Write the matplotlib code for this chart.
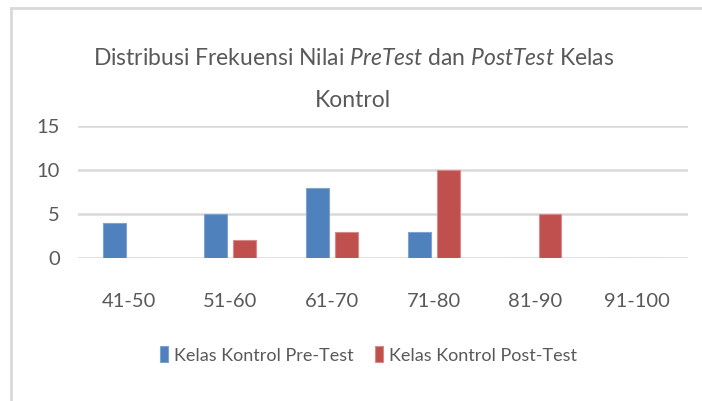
import numpy as np
import matplotlib
matplotlib.use("Agg")
import matplotlib.pyplot as plt
from matplotlib.lines import Line2D

# data
categories = ["41-50", "51-60", "61-70", "71-80", "81-90", "91-100"]
pre_test = [4, 5, 8, 3, 0, 0]
post_test = [0, 2, 3, 10, 5, 0]
series_names = ["Kelas Kontrol Pre-Test", "Kelas Kontrol Post-Test"]

font = ["Lato", "DejaVu Sans"]
plt.rcParams["font.family"] = font
plt.rcParams["mathtext.fontset"] = "custom"
plt.rcParams["mathtext.rm"] = "Lato"
plt.rcParams["mathtext.it"] = "Lato:italic"

txt = "#595959"
grid = "#d9d9d9"
blue = "#4f81bd"
red = "#c0504d"

fig = plt.figure(figsize=(7.02, 4.01), dpi=100)
ax = fig.add_axes([0.111, 0.3566, 0.869, 0.329])

x = np.arange(len(categories))
w = 0.226
off = 0.143
ax.bar(x - off, pre_test, w, color=blue, edgecolor="#7fa3d0", linewidth=0.8,
       label=series_names[0], zorder=3)
ax.bar(x + off, post_test, w, color=red, edgecolor="#d98a88", linewidth=0.8,
       label=series_names[1], zorder=3)

ax.set_xlim(-0.5, len(categories) - 0.5)
ax.set_ylim(0, 15)
ax.set_yticks([0, 5, 10, 15])
ax.set_xticks(x)
ax.set_xticklabels(categories)
for s in ax.spines.values():
    s.set_visible(False)
ax.yaxis.grid(True, color=grid, linewidth=1.8, zorder=0)
ax.set_axisbelow(True)
ax.tick_params(axis="both", length=0, labelsize=14.5, colors=txt)
ax.tick_params(axis="x", pad=25)
ax.tick_params(axis="y", pad=13)

fig.text(0.503, 0.855,
         r"Distribusi Frekuensi Nilai $\mathit{PreTest}$ dan $\mathit{PostTest}$ Kelas",
         ha="center", va="center", fontsize=16.5, color=txt)
fig.text(0.503, 0.75, "Kontrol", ha="center", va="center", fontsize=16.5, color=txt)

leg = fig.legend(loc="center", bbox_to_anchor=(0.525, 0.115), ncol=2, frameon=False,
                 fontsize=13, handlelength=0.45, handleheight=1.0, handletextpad=0.3,
                 columnspacing=1.2)
for t in leg.get_texts():
    t.set_color(txt)

# outer chart border (top and left only visible)
fig.add_artist(Line2D([11 / 702, 11 / 702], [0, 1 - 8 / 401],
                      transform=fig.transFigure, color=grid, linewidth=2))
fig.add_artist(Line2D([11 / 702, 1], [1 - 8 / 401, 1 - 8 / 401],
                      transform=fig.transFigure, color=grid, linewidth=2))

fig.savefig("out.png", dpi=100)
